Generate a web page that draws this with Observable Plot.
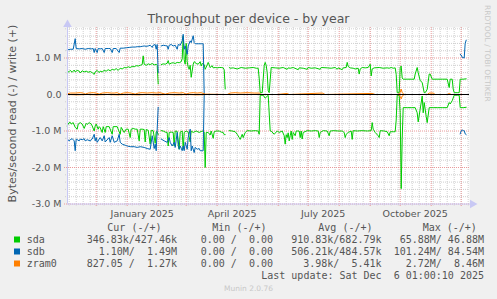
<!DOCTYPE html>
<html><head><meta charset="utf-8">
<script src="https://cdn.jsdelivr.net/npm/d3@7"></script>
<script src="https://cdn.jsdelivr.net/npm/@observablehq/plot@0.6"></script>
<style>html,body{margin:0;padding:0;background:#f0f0f0;overflow:hidden}</style>
</head><body><div id="chart"></div>
<script>
// day offsets from 2025-01-01 (UTC), values in MB/s; null = gap (unknown)
const sdaWrite = [[-60,0.60],[-58,0.63],[-57,0.66],[-55,0.61],[-53,0.67],[-52,0.62],[-50,0.66],[-48,0.64],[-47,0.59],[-45,0.65],[-43,0.62],[-41,0.64],[-39,0.61],[-37,0.63],[-35,0.60],[-33,0.55],[-32,0.62],[-30,0.66],[-28,0.60],[-27,0.64],[-25,0.62],[-23,0.66],[-21,0.64],[-19,0.68],[-17,0.65],[-15,0.69],[-13,0.67],[-11,0.71],[-9,0.66],[-7,0.72],[-5,0.70],[-3,0.74],[-1,0.73],[1,0.76],[3,0.74],[5,0.77],[7,0.76],[9,0.79],[11,0.78],[13,0.80],[15,0.82],[16,1.06],[17,0.83],[19,0.80],[21,0.84],[23,0.82],[25,0.85],[27,0.81],[29,0.83],[30,0.80],[31,0.29],[32,null],
[34,0.82],[36,0.84],[38,0.83],[40,0.86],[41,0.93],[42,0.83],[44,0.86],[46,0.87],[48,0.85],[50,0.88],[52,0.87],[54,0.90],[55,0.98],[56,1.60],[57,0.95],[58,0.83],[59,1.40],[60,0.90],[61,0.75],[62,0.69],[63,0.80],[64,0.47],[66,0.83],[67,0.90],[69,0.85],[71,0.83],[73,0.90],[74,0.78],[75,0.85],[77,0.82],[78,0.69],[79,0.75],[81,0.88],[83,0.74],[85,0.79],[86,0.73],[88,0.74],[90,0.73],[92,0.74],[94,0.74],[96,0.73],[97,0.68],[98,0.15],[99,null],
[102,0.74],[103,0.72],[106,0.73],[110,0.70],[114,0.74],[118,0.72],[122,0.73],[126,0.74],[129,0.72],[131,0.72],[132,0.45],[133,0.05],[135,0.05],[137,0.79],[138,0.88],[139,0.80],[140,0.60],[141,0.10],[142,0.05],[143,0.40],[144,0.74],[148,0.73],[152,0.72],[156,0.74],[160,0.69],[161,0.73],[163,0.72],[166,0.74],[171,0.68],[172,0.73],[176,0.72],[180,0.69],[181,0.74],[184,0.72],[188,0.73],[193,0.69],[194,0.74],[200,0.73],[204,0.72],[208,0.74],[210,0.69],[211,0.73],[215,0.68],[216,0.73],[219,0.74],[220,0.88],[221,0.77],[223,0.73],[226,0.72],[228,0.70],[231,0.72],[232,0.56],[233,0.70],[235,0.74],[238,0.73],[241,0.74],[243,0.83],[244,0.51],[245,0.70],[247,0.73],[252,0.74],[256,0.72],[260,0.73],[262,0.72],[264,0.74],[266,0.72],[268,0.73],[269,0.55],[270,0.05],[272,0.05],[273,0.74],[274,0.78],[275,0.45],[276,0.42],[280,0.42],[284,0.42],[287,0.42],[288,0.56],[290,0.74],[291,0.60],[293,0.38],[295,0.33],[297,0.05],[298,0.05],[300,0.14],[302,0.56],[303,0.56],[305,0.42],[310,0.42],[315,0.42],[320,0.42],[322,0.19],[323,0.42],[325,0.42],[326,0.15],[327,0.05],[330,0.05],[332,0.05],[333,0.42],[336,0.42],[339,0.43]];

const sdaRead = [[-60,-0.86],[-59,-0.81],[-58,-0.77],[-57,-0.76],[-56,-0.81],[-54,-0.77],[-52,-0.90],[-50,-0.95],[-49,-0.81],[-47,-0.77],[-45,-0.81],[-43,-0.93],[-41,-0.79],[-40,-0.82],[-38,-0.77],[-36,-0.81],[-35,-0.86],[-33,-1.00],[-32,-0.86],[-31,-0.81],[-29,-0.95],[-28,-0.88],[-27,-0.91],[-25,-1.04],[-24,-0.88],[-22,-1.04],[-21,-0.88],[-18,-0.88],[-15,-1.09],[-14,-0.88],[-10,-0.88],[-7,-1.09],[-6,-0.90],[-3,-1.04],[-1,-0.95],[1,-0.95],[3,-1.18],[4,-0.95],[6,-0.93],[8,-0.95],[10,-0.95],[12,-1.27],[13,-0.95],[15,-0.95],[17,-0.96],[18,-1.30],[19,-0.96],[21,-0.98],[23,-1.36],[24,-0.98],[26,-0.99],[28,-1.34],[29,-1.02],[30,-1.02],[31,-1.10],[32,null],
[34,-0.99],[36,-1.00],[38,-1.03],[40,-1.04],[41,-1.41],[42,-1.04],[44,-1.03],[46,-1.04],[47,-1.41],[48,-1.00],[50,-1.01],[51,-1.40],[52,-1.50],[53,-1.03],[55,-1.00],[56,-1.50],[57,-1.04],[59,-1.00],[61,-1.03],[63,-1.30],[64,-1.00],[66,-1.04],[69,-1.00],[72,-1.04],[75,-1.00],[77,-1.03],[78,-2.00],[79,-1.04],[81,-1.04],[83,-1.11],[84,-1.00],[86,-1.20],[87,-1.02],[89,-1.00],[92,-1.00],[94,-1.03],[96,-1.04],[97,-1.10],[98,-1.10],[99,null],
[102,-0.99],[105,-1.00],[108,-1.02],[110,-1.09],[112,-1.18],[113,-1.23],[115,-1.09],[116,-1.18],[118,-1.04],[120,-0.99],[124,-1.00],[128,-0.99],[131,-1.00],[132,-1.09],[133,-0.02],[136,-0.02],[138,-0.10],[141,-0.02],[143,-1.00],[144,-1.00],[147,-1.09],[150,-1.00],[152,-1.04],[155,-1.00],[157,-1.13],[158,-1.36],[159,-1.10],[160,-1.18],[161,-1.05],[162,-1.27],[163,-1.13],[164,-1.00],[165,-1.23],[166,-1.04],[168,-1.13],[169,-1.00],[172,-1.00],[173,-1.18],[174,-1.00],[175,-1.22],[176,-1.04],[180,-0.99],[184,-1.00],[188,-0.99],[191,-1.00],[192,-1.18],[193,-1.04],[196,-0.99],[200,-1.00],[202,-1.13],[203,-1.00],[207,-0.99],[211,-1.00],[215,-1.00],[217,-1.04],[218,-1.18],[219,-1.09],[221,-1.04],[224,-1.00],[225,-1.23],[226,-0.99],[230,-1.00],[235,-0.99],[240,-1.00],[244,-0.99],[245,-0.77],[246,-0.95],[248,-1.04],[251,-1.13],[252,-1.18],[253,-0.99],[257,-1.00],[260,-1.02],[262,-1.13],[263,-1.02],[266,-1.02],[268,-1.02],[269,-0.70],[270,-0.02],[272,-0.02],[273,-0.50],[274,-2.58],[275,-1.20],[276,-0.36],[280,-0.36],[284,-0.36],[288,-0.36],[290,-0.50],[291,-0.75],[293,-0.40],[295,-0.04],[296,-0.50],[297,-0.22],[299,-0.60],[300,-0.77],[302,-0.36],[306,-0.36],[310,-0.36],[315,-0.36],[320,-0.36],[322,-0.22],[323,-0.26],[325,-0.17],[327,-0.02],[330,-0.02],[332,-0.02],[333,-0.36],[336,-0.36],[339,-0.35]];

const sdbWrite = [[-60,1.22],[-57,1.24],[-54,1.24],[-52,1.53],[-51,1.26],[-48,1.25],[-45,1.26],[-42,1.24],[-39,1.26],[-36,1.25],[-34,1.26],[-33,1.15],[-32,1.26],[-30,1.15],[-29,1.26],[-27,1.25],[-25,1.26],[-23,1.15],[-22,1.26],[-19,1.26],[-17,1.26],[-15,1.15],[-14,1.26],[-11,1.26],[-8,1.15],[-7,1.27],[-4,1.27],[-1,1.28],[2,1.29],[5,1.30],[8,1.30],[10,1.31],[13,1.31],[15,1.32],[17,1.33],[19,1.32],[21,1.33],[23,1.35],[25,1.29],[26,1.35],[28,1.37],[29,1.24],[30,1.37],[31,0.60],[32,null],
[34,1.33],[36,1.35],[38,1.34],[40,1.33],[41,1.24],[42,1.35],[44,1.37],[46,1.33],[48,1.35],[50,1.24],[51,1.37],[53,1.35],[55,1.47],[56,1.65],[57,1.24],[58,1.33],[60,1.10],[61,1.33],[63,1.47],[64,1.42],[66,1.61],[67,1.42],[68,1.39],[71,1.39],[74,1.39],[76,1.39],[77,0],[78,null],
[333,1.10],[334,1.08],[335,1.02],[337,1.00],[338,1.40],[339,1.49]];

const sdbRead = [[-60,-1.22],[-58,-1.27],[-57,-1.24],[-55,-1.21],[-53,-1.27],[-52,-1.54],[-51,-1.22],[-48,-1.27],[-47,-1.22],[-45,-1.24],[-43,-1.21],[-42,-1.27],[-40,-1.24],[-37,-1.27],[-35,-1.22],[-33,-1.09],[-32,-1.27],[-31,-1.18],[-30,-1.31],[-28,-1.22],[-27,-1.18],[-25,-1.27],[-23,-1.13],[-22,-1.30],[-18,-1.18],[-17,-1.31],[-15,-1.13],[-13,-1.31],[-10,-1.27],[-8,-1.09],[-7,-1.31],[-5,-1.36],[-2,-1.39],[0,-1.41],[3,-1.43],[7,-1.43],[10,-1.45],[13,-1.43],[17,-1.45],[20,-1.48],[23,-1.50],[25,-1.13],[27,-1.48],[28,-1.36],[29,-1.54],[31,-0.35],[32,null],
[34,-1.22],[37,-1.27],[40,-1.31],[42,-1.18],[43,-1.31],[45,-1.41],[47,-1.31],[48,-1.45],[50,-1.04],[52,-1.50],[53,-1.41],[55,-1.54],[56,-1.41],[57,-1.54],[58,-1.31],[60,-1.50],[61,-1.18],[63,-0.95],[64,-1.54],[65,-1.41],[67,-1.59],[68,-1.45],[70,-1.50],[72,-1.48],[73,-1.54],[75,-1.54],[76,-1.54],[77,0],[78,null],
[333,-1.08],[334,-1.00],[335,-0.97],[336,-0.99],[337,-0.99],[338,-1.08],[339,-1.10]];

const zramWrite = [[-60,0.02],[-57,0.04],[-52,0.04],[-47,0.05],[-44,0.04],[-42,0.01],[-39,0.04],[-34,0.05],[-31,0.04],[-28,0.01],[-25,0.04],[-20,0.05],[-16,0.04],[-13,0.04],[-10,0.05],[-7,0.01],[-4,0.04],[0,0.05],[4,0.04],[8,0.01],[11,0.04],[15,0.05],[20,0.04],[25,0.05],[29,0.04],[33,0.05],[38,0.01],[42,0.04],[47,0.05],[52,0.04],[56,0.05],[59,0.01],[62,0.04],[66,0.05],[70,0.04],[74,0.05],[78,0.01],[100,0],[103,0.04],[108,0.05],[113,0.04],[120,0.05],[127,0.04],[132,0.04],[134,0],[150,0],[160,0.03],[162,0],[195,0.04],[198,0],[245,0.03],[248,0],[271,0],[273,0.06],[274,0.15],[275,0.05],[277,0],[300,0],[302,0.04],[306,0.04],[308,0],[320,0],[322,0.03],[324,0],[339,0]];
const zramRead = [[-60,0],[-50,-0.01],[-40,0],[-30,-0.01],[-20,0],[-10,-0.01],[0,0],[10,-0.01],[20,0],[30,-0.01],[40,0],[50,-0.01],[60,0],[70,-0.01],[80,0],[271,0],[273,-0.05],[274,-0.12],[275,-0.04],[277,0],[339,0]];

const yTickValues = [1, 0, -1, -2, -3];
const yTickLabels = ["1.0 M", "0.0", "-1.0 M", "-2.0 M", "-3.0 M"];
const xLabelDays = [15, 105, 196, 288];
const xLabelTexts = ["January 2025", "April 2025", "July 2025", "October 2025"];

const legendNames = ["sda", "sdb", "zram0"];
const legendColors = ["#00cc00", "#0066b3", "#ff8000"];
const legendCur = ["346.83k/427.46k", "  1.10M/  1.49M", "827.05 /  1.27k"];
const legendMin = ["0.00 /  0.00", "0.00 /  0.00", "0.00 /  0.00"];
const legendAvg = ["910.83k/682.79k", "506.21k/484.57k", "  3.98k/  5.41k"];
const legendMax = [" 65.88M/ 46.88M", "101.24M/ 84.54M", "  2.72M/  8.46M"];
const legendHeaders = ["Cur (-/+)", "Min (-/+)", "Avg (-/+)", "Max (-/+)"];

const day0 = Date.UTC(2025, 0, 1);
const toDate = d => new Date(day0 + d * 864e5);
const toRows = arr => arr.map(([d, v]) => ({date: toDate(d), value: v == null ? NaN : v}));
const xDomain = [toDate(-59.7), toDate(342.3)];
const yDomain = [-3, 1.836];

const minorY = d3.range(-30, 19, 2).map(v => v / 10).filter(v => v % 1 !== 0);
const majorY = [-3, -2, -1, 1];
const weeks = d3.utcMonday.range(xDomain[0], xDomain[1]);
const months = d3.utcMonth.range(xDomain[0], xDomain[1]);

const minorC = "#cfcfcf", majorC = "#eb9a9a", axisC = "#c8c8f4";
const lineOpts = c => ({x: "date", y: "value", stroke: c, strokeWidth: 1, curve: "linear"});

const chart = Plot.plot({
  width: 497, height: 299,
  marginLeft: 67, marginRight: 28, marginTop: 27, marginBottom: 95.5,
  style: {background: "#f0f0f0", fontFamily: "'DejaVu Sans', sans-serif", fontSize: "9.5px", color: "#555", overflow: "visible"},
  x: {type: "utc", domain: xDomain, axis: null},
  y: {domain: yDomain, axis: null},
  marks: [
    Plot.frame({fill: "white", stroke: "none"}),
    Plot.ruleY(minorY, {stroke: minorC, strokeDasharray: "1,1", insetLeft: -2}),
    Plot.ruleX(weeks, {stroke: minorC, strokeDasharray: "1,1", insetBottom: -2}),
    Plot.ruleY(majorY, {stroke: majorC, strokeDasharray: "1,1", insetLeft: -3}),
    Plot.ruleX(months, {stroke: majorC, strokeDasharray: "1,1", insetBottom: -3}),
    Plot.line(toRows(sdaRead), lineOpts("#00cc00")),
    Plot.line(toRows(sdaWrite), lineOpts("#00cc00")),
    Plot.line(toRows(sdbRead), lineOpts("#0066b3")),
    Plot.line(toRows(sdbWrite), lineOpts("#0066b3")),
    Plot.line(toRows(zramRead), lineOpts("#ff8000")),
    Plot.line(toRows(zramWrite), lineOpts("#ff8000")),
    Plot.ruleY([0], {stroke: "#000", strokeWidth: 1}),
    Plot.ruleX([xDomain[0]], {stroke: axisC, insetTop: -3}),
    Plot.ruleY([-3], {stroke: axisC, insetRight: -3}),
    Plot.dot([{x: xDomain[0], y: yDomain[1]}], {x: "x", y: "y", symbol: "triangle", r: 3.2, fill: axisC, stroke: "none", dy: -3}),
    Plot.dot([{x: xDomain[1], y: -3}], {x: "x", y: "y", symbol: "triangle", r: 3.2, fill: axisC, stroke: "none", rotate: 90, dx: 3}),
    Plot.text(yTickValues, {y: d => d, text: (d, i) => yTickLabels[i], frameAnchor: "left", textAnchor: "end", dx: -6}),
    Plot.text(xLabelDays, {x: d => toDate(d), text: (d, i) => xLabelTexts[i], frameAnchor: "bottom", lineAnchor: "bottom", dy: 13})
  ]
});
document.getElementById("chart").appendChild(chart);

const svg = d3.select(chart);
const sans = "'DejaVu Sans', sans-serif", mono = "'DejaVu Sans Mono', monospace";
svg.append("text").attr("x", 248.5).attr("y", 22.5).attr("text-anchor", "middle")
  .attr("font-family", sans).attr("font-size", 12.5).attr("fill", "#555")
  .text("Throughput per device - by year");
svg.append("text").attr("transform", "translate(15.5,113.5) rotate(-90)").attr("text-anchor", "middle")
  .attr("font-family", sans).attr("font-size", 11).attr("fill", "#555")
  .text("Bytes/second read (-) / write (+)");
svg.append("text").attr("transform", "translate(485,5) rotate(90)").attr("text-anchor", "start")
  .attr("font-family", sans).attr("font-size", 7.5).attr("fill", "#c8c8c8")
  .text("RRDTOOL / TOBI OETIKER");

const legend = svg.append("g").attr("font-family", mono).attr("font-size", 10).attr("fill", "#555")
  .attr("text-anchor", "start").style("white-space", "pre");
const headerX = [107.3, 212.3, 318.3, 422.7];
legendHeaders.forEach((h, i) => legend.append("text").attr("x", headerX[i]).attr("y", 231).text(h));
legendNames.forEach((n, i) => {
  const y = 243 + i * 12;
  legend.append("rect").attr("x", 14).attr("y", y - 6.5).attr("width", 6).attr("height", 6).attr("fill", legendColors[i]);
  legend.append("text").attr("x", 26.7).attr("y", y).text(n);
  legend.append("text").attr("x", 177).attr("y", y).attr("text-anchor", "end").text(legendCur[i]);
  legend.append("text").attr("x", 273).attr("y", y).attr("text-anchor", "end").text(legendMin[i]);
  legend.append("text").attr("x", 381.5).attr("y", y).attr("text-anchor", "end").text(legendAvg[i]);
  legend.append("text").attr("x", 484).attr("y", y).attr("text-anchor", "end").text(legendMax[i]);
});
legend.append("text").attr("x", 484).attr("y", 279).attr("text-anchor", "end").text("Last update: Sat Dec  6 01:00:10 2025");
svg.append("text").attr("x", 248.5).attr("y", 291).attr("text-anchor", "middle")
  .attr("font-family", sans).attr("font-size", 7.5).attr("fill", "#c8c8c8").text("Munin 2.0.76");
</script></body></html>
